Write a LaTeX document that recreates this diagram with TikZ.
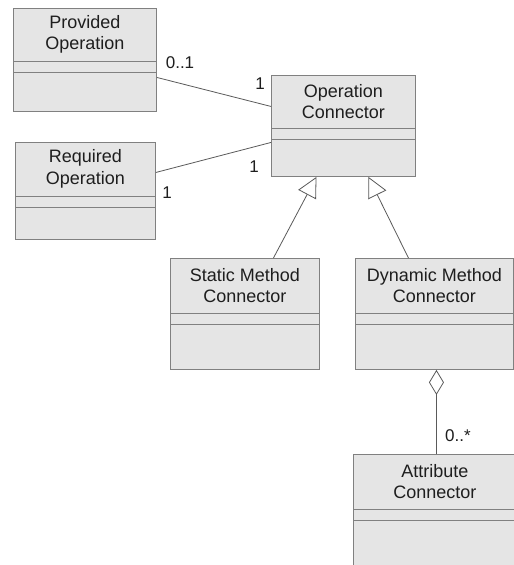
\documentclass[tikz,border=0pt]{standalone}
\usepackage{fontspec}
\setmainfont{Liberation Sans}
\usetikzlibrary{arrows.meta}
\definecolor{boxfill}{HTML}{E5E5E5}
\definecolor{boxline}{HTML}{808080}
\definecolor{connline}{HTML}{5A5A5A}
\definecolor{txt}{HTML}{1E1E1E}
\newcommand\umlclass[8]{%
  \node[cls, minimum width=#4pt, minimum height=#5pt] (#1) at (#2,#3) {};
  \draw[divline] ([yshift=-#6pt]#1.north west) -- ([yshift=-#6pt]#1.north east);
  \draw[divline] ([yshift=-#7pt]#1.north west) -- ([yshift=-#7pt]#1.north east);
  \path (#1.north) ++(0,#6/2) node[cname] (#1-name) {#8};
}
\begin{document}
\begin{tikzpicture}[x=1pt,y=-1pt,
  cls/.style={draw=boxline, fill=boxfill, line width=0.9pt, rectangle, inner sep=0pt, anchor=north west},
  divline/.style={draw=boxline, line width=0.9pt},
  cname/.style={align=center, text=txt, font=\fontsize{18}{21.5}\selectfont, inner sep=0pt},
  mult/.style={text=txt, font=\fontsize{17}{20}\selectfont, inner sep=0pt},
  assoc/.style={draw=connline, line width=0.8pt},
  gen/.style={draw=connline, line width=0.8pt, -{Triangle[open, fill=white, length=20pt, width=20pt]}},
  agg/.style={draw=connline, line width=0.8pt, -{Diamond[open, fill=white, length=25pt, width=15pt]}}
]
\useasboundingbox (0,0) rectangle (514,565);
\clip (0,0) rectangle (514,565);
\fill[white] (0,0) rectangle (514,565);

\umlclass{prov}{13}{8}{143}{103}{53}{64}{Provided\\Operation}
\umlclass{req}{15}{142}{140}{97}{54}{65}{Required\\Operation}
\umlclass{opc}{271}{75}{144}{101}{53}{64}{Operation\\Connector}
\umlclass{stat}{170}{258}{149}{111}{55}{66}{Static Method\\Connector}
\umlclass{dyn}{355}{258}{158}{111}{55}{66}{Dynamic Method\\Connector}
\umlclass{attr}{353}{454}{163}{130}{55}{66}{Attribute\\Connector}

\draw[assoc] ([yshift=-17.5pt]prov.east) -- ([yshift=19.5pt]opc.west);
\draw[assoc] ([yshift=18.5pt]req.east) -- ([yshift=-16.5pt]opc.west);
\draw[gen] ([xshift=28.5pt]stat.north) -- ([xshift=-27pt]opc.south);
\draw[gen] ([xshift=-26pt]dyn.north) -- ([xshift=25pt]opc.south);
\draw[agg] ([xshift=1.5pt]attr.north) -- ([xshift=2pt]dyn.south);

\node[mult] (m1) at (180,63) {0..1};
\node[mult] (m2) at (260,84) {1};
\node[mult] (m3) at (254,167) {1};
\node[mult] (m4) at (167,193) {1};
\node[mult] (m5) at (458,436) {0..*};
\end{tikzpicture}
\end{document}
